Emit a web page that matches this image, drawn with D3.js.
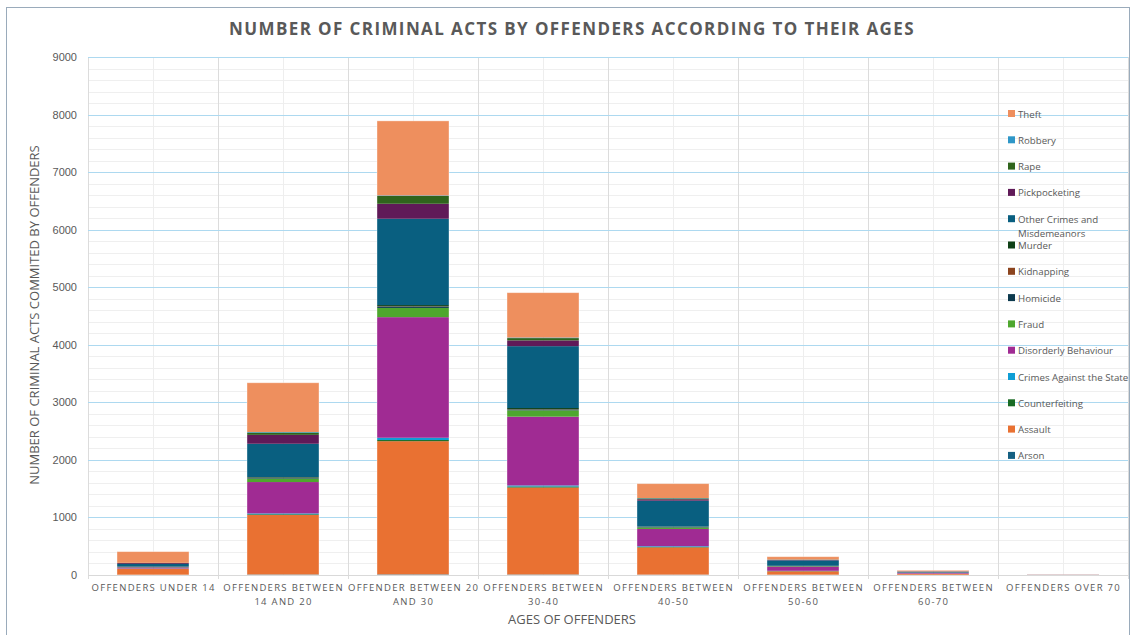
<!DOCTYPE html>
<html>
<head>
<meta charset="utf-8">
<script src="https://cdn.jsdelivr.net/npm/d3@7"></script>
<style>
  body { margin: 0; background: #ffffff; }
  svg { display: block; }
  text { font-family: "Open Sans", "Liberation Sans", sans-serif; }
</style>
</head>
<body>
<svg id="chart" width="1136" height="635"></svg>
<script>
// ---------- DATA ----------
const categories = [
  ["OFFENDERS UNDER 14"],
  ["OFFENDERS BETWEEN", "14 AND 20"],
  ["OFFENDER BETWEEN 20", "AND 30"],
  ["OFFENDERS BETWEEN", "30-40"],
  ["OFFENDERS BETWEEN", "40-50"],
  ["OFFENDERS BETWEEN", "50-60"],
  ["OFFENDERS BETWEEN", "60-70"],
  ["OFFENDERS OVER 70"]
];
const seriesNames = [
  "Arson", "Assault", "Counterfeiting", "Crimes Against the State",
  "Disorderly Behaviour", "Fraud", "Homicide", "Kidnapping", "Murder",
  "Other Crimes and Misdemeanors", "Pickpocketing", "Rape", "Robbery", "Theft"
];
const arson          = [3, 8, 10, 8, 5, 3, 1, 0];
const assault        = [105, 1035, 2315, 1512, 475, 62, 20, 3];
const counterfeiting = [2, 12, 20, 18, 8, 3, 1, 0];
const crimesState    = [3, 15, 40, 18, 12, 5, 2, 0];
const disorderly     = [20, 545, 2095, 1195, 300, 70, 15, 2];
const fraud          = [5, 60, 160, 110, 25, 8, 2, 0];
const homicide       = [3, 10, 25, 15, 8, 4, 1, 0];
const kidnapping     = [2, 5, 5, 5, 3, 2, 1, 0];
const murder         = [3, 10, 20, 20, 5, 3, 1, 0];
const otherCrimes    = [45, 580, 1500, 1075, 450, 95, 14, 3];
const pickpocketing  = [15, 155, 260, 100, 25, 8, 3, 1];
const rape           = [3, 40, 135, 40, 15, 4, 1, 0];
const robbery        = [2, 10, 10, 10, 6, 2, 1, 0];
const theft          = [195, 855, 1295, 779, 250, 49, 18, 3];
const yTicks = [0, 1000, 2000, 3000, 4000, 5000, 6000, 7000, 8000, 9000];
const legendLabels = [
  ["Theft"], ["Robbery"], ["Rape"], ["Pickpocketing"], ["Other Crimes and", "Misdemeanors"],
  ["Murder"], ["Kidnapping"], ["Homicide"], ["Fraud"], ["Disorderly Behaviour"],
  ["Crimes Against the State"], ["Counterfeiting"], ["Assault"], ["Arson"]
];

const seriesValues = [arson, assault, counterfeiting, crimesState, disorderly, fraud,
  homicide, kidnapping, murder, otherCrimes, pickpocketing, rape, robbery, theft];
const colors = ["#156082", "#E97132", "#196B24", "#0F9ED5", "#A02B93", "#4EA72E",
  "#0D3A4E", "#8C441E", "#0F4016", "#095F80", "#601A58", "#2F641C", "#2E97C8", "#EE8F5E"];

// ---------- LAYOUT ----------
const svg = d3.select("#chart");
const pLeft = 88, pRight = 1128, pTop = 57, pBottom = 575;

const x = d3.scaleBand().domain(d3.range(categories.length)).range([pLeft, pRight]).paddingInner(0).paddingOuter(0);
const y = d3.scaleLinear().domain([0, 9000]).range([pBottom, pTop]);

// frame
svg.append("rect").attr("x", 6.5).attr("y", 7.5).attr("width", 1123).attr("height", 640)
  .attr("fill", "#fff").attr("stroke", "#9aabbb").attr("stroke-width", 1);

// minor horizontal grid
const minor = d3.range(200, 9001, 200).filter(v => v % 1000 !== 0);
svg.append("g").selectAll("line").data(minor).join("line")
  .attr("x1", pLeft).attr("x2", pRight)
  .attr("y1", d => Math.round(y(d)) + 0.5).attr("y2", d => Math.round(y(d)) + 0.5)
  .attr("stroke", "#efefef").attr("stroke-width", 1);

// vertical center lines
svg.append("g").selectAll("line").data(d3.range(categories.length)).join("line")
  .attr("x1", d => Math.round(x(d) + x.bandwidth() / 2) + 0.5)
  .attr("x2", d => Math.round(x(d) + x.bandwidth() / 2) + 0.5)
  .attr("y1", pTop).attr("y2", pBottom)
  .attr("stroke", "#eeeeee");

// vertical boundary lines
svg.append("g").selectAll("line").data(d3.range(categories.length + 1)).join("line")
  .attr("x1", d => Math.round(pLeft + d * x.bandwidth()) + 0.5)
  .attr("x2", d => Math.round(pLeft + d * x.bandwidth()) + 0.5)
  .attr("y1", pTop).attr("y2", pBottom + 4)
  .attr("stroke", "#dcdcdc");

// major horizontal grid
svg.append("g").selectAll("line").data(yTicks.filter(d => d > 0)).join("line")
  .attr("x1", pLeft).attr("x2", pRight)
  .attr("y1", d => Math.round(y(d)) + 0.5).attr("y2", d => Math.round(y(d)) + 0.5)
  .attr("stroke", "#add9f0").attr("stroke-width", 1);

// stacked data
const table = categories.map((c, i) => {
  const o = { i };
  seriesNames.forEach((s, k) => o[s] = seriesValues[k][i]);
  return o;
});
const stack = d3.stack().keys(seriesNames)(table);

const barW = 72;
svg.append("g").selectAll("g").data(stack).join("g")
  .attr("fill", (d, k) => colors[k])
  .selectAll("rect").data(d => d).join("rect")
  .attr("x", d => x(d.data.i) + (x.bandwidth() - barW) / 2)
  .attr("width", barW)
  .attr("y", d => y(d[1]))
  .attr("height", d => Math.max(0, y(d[0]) - y(d[1])));

// bar outline (light)
svg.append("g").selectAll("rect").data(table).join("rect")
  .attr("x", d => x(d.i) + (x.bandwidth() - barW) / 2)
  .attr("width", barW)
  .attr("y", d => y(d3.sum(seriesNames, s => d[s])))
  .attr("height", d => y(0) - y(d3.sum(seriesNames, s => d[s])))
  .attr("fill", "none").attr("stroke", "#ffffff").attr("stroke-opacity", 0.45).attr("stroke-width", 0.8);

// baseline
svg.append("line").attr("x1", pLeft).attr("x2", pRight)
  .attr("y1", pBottom + 0.5).attr("y2", pBottom + 0.5).attr("stroke", "#d9d9d9");

// y axis labels
const yAxis = d3.axisLeft(y).tickValues(yTicks).tickSize(0).tickPadding(11).tickFormat(d3.format("d"));
const ya = svg.append("g").attr("transform", `translate(${pLeft},0)`).call(yAxis);
ya.select(".domain").remove();
ya.selectAll("text").attr("fill", "#595959").style("font-size", "11px")
  .style("font-family", "'Liberation Sans', Arial, sans-serif");

// x category labels
const xl = svg.append("g");
categories.forEach((lines, i) => {
  const t = xl.append("text").attr("x", x(i) + x.bandwidth() / 2).attr("y", 591)
    .attr("text-anchor", "middle").attr("fill", "#595959")
    .style("font-size", "9.5px").style("letter-spacing", "1.3px");
  lines.forEach((l, j) => t.append("tspan").attr("x", x(i) + x.bandwidth() / 2 + 0.6).attr("dy", j === 0 ? 0 : 14).text(l));
});

// axis titles
svg.append("text").attr("x", 572).attr("y", 624).attr("text-anchor", "middle")
  .attr("fill", "#595959").style("font-size", "13px").text("AGES OF OFFENDERS");
svg.append("text").attr("transform", "translate(39,315) rotate(-90)").attr("text-anchor", "middle")
  .attr("fill", "#595959").style("font-size", "13px").style("letter-spacing", "0px")
  .text("NUMBER OF CRIMINAL ACTS COMMITED BY OFFENDERS");

// title
svg.append("text").attr("x", 572).attr("y", 35).attr("text-anchor", "middle")
  .attr("fill", "#595959").style("font-size", "17px").style("font-weight", "bold")
  .style("letter-spacing", "1.4px")
  .text("NUMBER OF CRIMINAL ACTS BY OFFENDERS ACCORDING TO THEIR AGES");

// legend
const lg = svg.append("g");
legendLabels.forEach((lines, j) => {
  const k = seriesNames.length - 1 - j;
  const yy = 114 + j * 26.3;
  lg.append("rect").attr("x", 1008).attr("y", yy - 4).attr("width", 7).attr("height", 7).attr("fill", colors[k]);
  const t = lg.append("text").attr("x", 1018).attr("y", yy + 3.5).attr("fill", "#595959")
    .style("font-size", "9.7px");
  lines.forEach((l, m) => t.append("tspan").attr("x", 1018).attr("dy", m === 0 ? 0 : 14).text(l));
});
</script>
</body>
</html>
